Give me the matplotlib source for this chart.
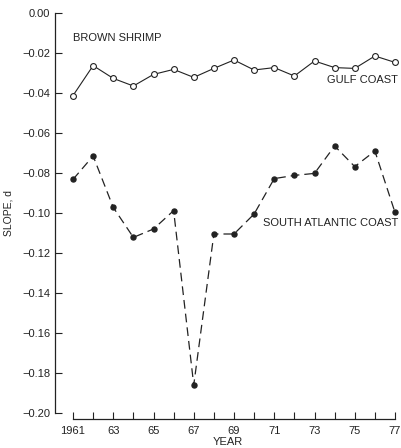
import numpy as np
import matplotlib
matplotlib.use("Agg")
import matplotlib.pyplot as plt

years = list(range(1961, 1978))
gulf = [-0.0413, -0.0263, -0.0327, -0.0365, -0.0307, -0.0282, -0.0322, -0.0277,
        -0.0235, -0.0285, -0.0273, -0.0315, -0.0240, -0.0273, -0.0277, -0.0215, -0.0247]
south_atl = [-0.0832, -0.0715, -0.0972, -0.1122, -0.1080, -0.0988, -0.1860, -0.1105,
             -0.1105, -0.1005, -0.0828, -0.0812, -0.0802, -0.0665, -0.0768, -0.0690, -0.0997]
y_ticks = [0.0, -0.02, -0.04, -0.06, -0.08, -0.10, -0.12, -0.14, -0.16, -0.18, -0.20]
x_labels = ["1961", "63", "65", "67", "69", "71", "73", "75", "77"]

plt.rcParams['font.family'] = ['Liberation Sans', 'DejaVu Sans']
ink = '#222222'

fig = plt.figure(figsize=(4.01, 4.48), dpi=100)
W, H = 401, 448
ax = fig.add_axes([55 / W, (H - 413) / H, (W - 55) / W, 400 / H])

ax.plot(years, gulf, color=ink, lw=0.8, marker='o', ms=4.2, mfc='white',
        mec=ink, mew=0.8)
ax.plot(years, south_atl, color=ink, lw=0.9, ls=(0, (7, 4)), marker='o', ms=3.6,
        mfc=ink, mec=ink)

# 1961 -> x=73 px, 1977 -> x=395 px
ppy = (395 - 73) / 16
ax.set_xlim(1961 - (73 - 55) / ppy, 1961 + (W - 55 - 18) / ppy)
ax.set_ylim(-0.20, 0.0)

for s in ['top', 'right']:
    ax.spines[s].set_visible(False)
ax.spines['left'].set_bounds(-0.20, 0.0)
ax.spines['bottom'].set_bounds(1961, 1977)
ax.spines['bottom'].set_position(('outward', 4))
for s in ['left', 'bottom']:
    ax.spines[s].set_linewidth(0.9)
    ax.spines[s].set_color(ink)

ax.set_yticks(y_ticks)
ax.set_yticklabels(['0.00'] + ['\u2212' + f"{abs(v):.2f}" for v in y_ticks[1:]])
ax.set_xticks(years)
ax.set_xticklabels([x_labels[i // 2] if i % 2 == 0 else '' for i in range(17)])
ax.tick_params(direction='in', length=5, width=0.8, colors=ink, labelsize=8)
ax.tick_params(axis='x', pad=5)

ax.set_ylabel('SLOPE, d', fontsize=7.5, color=ink, labelpad=6)
ax.set_xlabel('YEAR', fontsize=8, color=ink, labelpad=1)

ax.text(1961, -0.0125, 'BROWN SHRIMP', fontsize=8, color=ink, va='center')
ax.text(1977.15, -0.0335, 'GULF COAST', fontsize=8, color=ink, va='center', ha='right')
ax.text(1977.15, -0.105, 'SOUTH ATLANTIC COAST', fontsize=8, color=ink, va='center', ha='right')

fig.savefig('out.png', dpi=100)
